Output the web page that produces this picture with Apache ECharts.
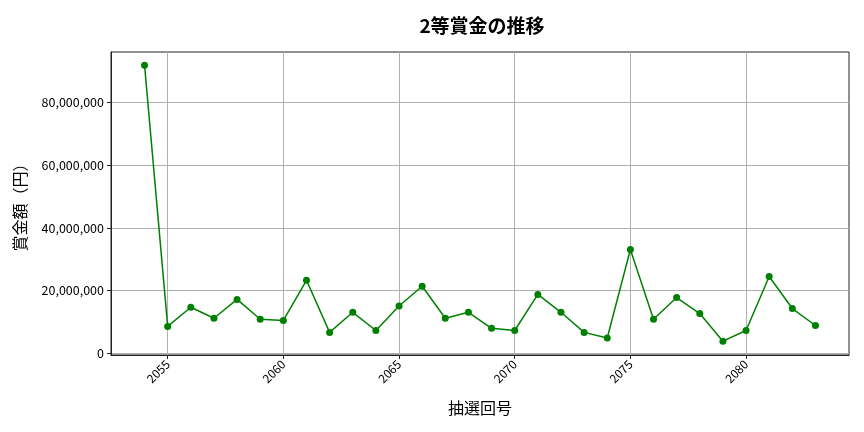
<!DOCTYPE html>
<html>
<head>
<meta charset="utf-8">
<script src="https://cdn.jsdelivr.net/npm/echarts@6/dist/echarts.min.js"></script>
<style>
  html, body { margin: 0; padding: 0; background: #fff; }
  #chart { width: 864px; height: 432px; }
</style>
</head>
<body>
<div id="chart"></div>
<script>
// 抽選回号
const draws = [2054, 2055, 2056, 2057, 2058, 2059, 2060, 2061, 2062, 2063,
               2064, 2065, 2066, 2067, 2068, 2069, 2070, 2071, 2072, 2073,
               2074, 2075, 2076, 2077, 2078, 2079, 2080, 2081, 2082, 2083]
// 2等賞金（円）
const prizes = [91800000, 8600000, 14700000, 11200000, 17200000, 10900000, 10500000, 23300000, 6700000, 13100000,
                7300000, 15100000, 21400000, 11200000, 13100000, 8000000, 7300000, 18800000, 13100000, 6700000,
                4900000, 33100000, 10900000, 17800000, 12700000, 3900000, 7300000, 24500000, 14300000, 8900000]
const xTicks = [2055, 2060, 2065, 2070, 2075, 2080]
const yTicks = [0, 20000000, 40000000, 60000000, 80000000]

const font = "'Noto Sans CJK JP', 'DejaVu Sans', sans-serif"

let myChart = echarts.init(document.getElementById('chart'))

let option = {
    animation: false,
    title: {
        text: '2等賞金の推移',
        left: 477,
        top: 11,
        textAlign: 'center',
        textStyle: { fontFamily: font, fontSize: 19, fontWeight: 'bold', color: '#000' }
    },
    grid: {
        left: 111,
        right: 15,
        top: 52,
        bottom: 77,
        show: true,
        borderColor: '#222',
        borderWidth: 1
    },
    xAxis: {
        type: 'value',
        min: 2052.55,
        max: 2084.45,
        name: '抽選回号',
        nameLocation: 'middle',
        nameGap: 45,
        nameTextStyle: { fontFamily: font, fontSize: 16, color: '#000' },
        axisLine: { show: true, onZero: false, lineStyle: { color: '#222' } },
        axisTick: { show: true, length: 4, customValues: xTicks, lineStyle: { color: '#222' } },
        axisLabel: {
            customValues: xTicks,
            rotate: 45,
            fontFamily: font,
            fontSize: 12,
            color: '#000',
            margin: 7,
            formatter: function(v) {
                return String(v)
            }
        },
        splitLine: { show: true, lineStyle: { color: '#b0b0b0', width: 1 } }
    },
    yAxis: {
        type: 'value',
        min: -500000,
        max: 96000000,
        name: '賞金額（円）',
        nameLocation: 'middle',
        nameGap: 83,
        nameTextStyle: { fontFamily: font, fontSize: 16, color: '#000' },
        axisLine: { show: true, lineStyle: { color: '#222' } },
        axisTick: { show: true, length: 4, customValues: yTicks, lineStyle: { color: '#222' } },
        axisLabel: {
            customValues: yTicks,
            fontFamily: font,
            fontSize: 12.5,
            color: '#000',
            margin: 7,
            formatter: function(v) {
                return Math.round(v).toLocaleString('en-US')
            }
        },
        splitLine: { show: true, lineStyle: { color: '#b0b0b0', width: 1 } }
    },
    series: [{
        type: 'line',
        data: draws.map((d, i) => [d, prizes[i]]),
        symbol: 'circle',
        symbolSize: 7,
        lineStyle: { color: '#008000', width: 1.5 },
        itemStyle: { color: '#008000' }
    }]
}
myChart.setOption(option)
</script>
</body>
</html>
